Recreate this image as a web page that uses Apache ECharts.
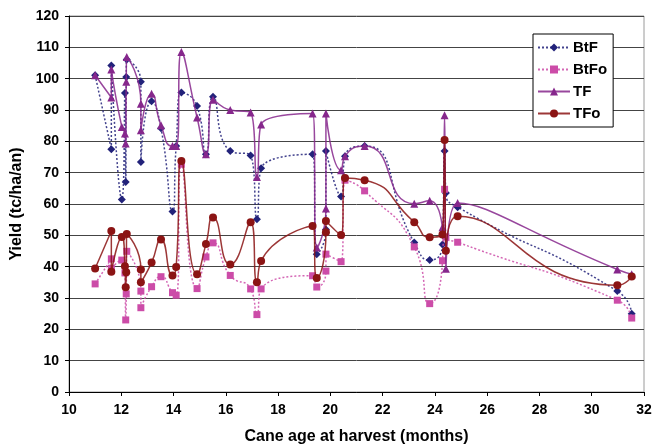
<!DOCTYPE html>
<html><head><meta charset="utf-8">
<script src="https://cdn.jsdelivr.net/npm/echarts@6/dist/echarts.min.js"></script>
<style>html,body{margin:0;padding:0;background:#fff}#c{width:658px;height:445px}</style>
</head><body><div id="c"></div>
<script>
const seriesNames = ['BtF', 'BtFo', 'TF', 'TFo'];
const ageMonths = [11.0, 11.62, 11.62, 12.02, 12.14, 12.17, 12.19, 12.21, 12.75, 12.75, 13.16, 13.52, 13.96, 14.1, 14.3, 14.9, 15.24, 15.51, 16.17, 16.95, 17.19, 17.35, 19.32, 19.48, 19.83, 19.83, 20.41, 20.56, 21.31, 23.21, 23.8, 24.29, 24.37, 24.42, 24.87, 30.98, 31.53];
const btF  = [101.1, 77.5, 104.2, 61.4, 95.4, 67.0, 100.5, 106.1, 99.0, 73.4, 92.8, 84.2, 57.6, 78.5, 95.6, 91.3, 75.9, 94.2, 76.9, 75.5, 55.1, 71.4, 75.9, 44.0, 51.9, 76.9, 62.4, 75.2, 78.5, 47.7, 42.1, 47.1, 76.9, 63.5, 59.0, 32.2, 25.0];
const btFo = [34.5, 42.5, 39.5, 42.1, 38.0, 23.0, 31.3, 44.9, 32.2, 26.9, 33.6, 36.8, 31.7, 30.9, 72.7, 33.0, 43.1, 47.6, 37.2, 32.9, 24.7, 32.9, 37.1, 33.5, 38.6, 44.0, 41.6, 67.6, 64.2, 46.3, 28.2, 41.9, 64.7, 49.5, 47.8, 29.3, 23.6];
const tF   = [101.1, 94.0, 102.9, 84.6, 82.5, 79.3, 99.0, 106.9, 92.0, 83.5, 95.2, 85.1, 78.5, 78.5, 108.5, 87.6, 75.9, 93.3, 90.0, 89.2, 68.6, 85.4, 88.9, 46.1, 58.6, 88.9, 70.8, 75.2, 78.5, 60.1, 61.0, 52.6, 88.3, 39.3, 60.3, 39.1, 37.6];
const tFo  = [39.4, 51.4, 38.4, 49.5, 40.1, 33.4, 38.2, 50.4, 39.1, 35.0, 41.3, 48.7, 37.2, 39.9, 73.7, 37.6, 47.2, 55.7, 40.7, 54.2, 35.0, 41.8, 53.0, 36.4, 51.0, 54.6, 50.1, 68.3, 67.6, 54.2, 49.4, 50.3, 80.4, 45.1, 56.1, 34.1, 36.9];
const xTicks = [10, 12, 14, 16, 18, 20, 22, 24, 26, 28, 30, 32];
const yTicks = [0, 10, 20, 30, 40, 50, 60, 70, 80, 90, 100, 110, 120];

const pairs = ys => ageMonths.map((x, i) => [x, ys[i]]);
const styles = [
  {color: '#22227a', symbol: 'diamond', size: 8, type: [2, 2]},
  {color: '#cc4ca8', symbol: 'rect', size: 7, type: [2, 2]},
  {color: '#86278c', symbol: 'triangle', size: 8, type: 'solid'},
  {color: '#8b1414', symbol: 'circle', size: 8, type: 'solid'}
];
const values = [btF, btFo, tF, tFo];
const chart = echarts.init(document.getElementById('c'), null, {renderer: 'canvas'});
chart.setOption({
  animation: false,
  backgroundColor: '#fff',
  textStyle: {fontFamily: 'Liberation Sans, Arial, sans-serif'},
  grid: {left: 69, right: 14, top: 16, bottom: 53, containLabel: false, outerBoundsMode: 'none',
         show: true, borderColor: '#9a9a9a', borderWidth: 1},
  legend: {
    orient: 'vertical', left: 533, top: 34,
    data: seriesNames,
    backgroundColor: '#fff', borderColor: '#000', borderWidth: 1,
    padding: [6, 6, 6, 4], itemGap: 7, itemWidth: 32, itemHeight: 10,
    textStyle: {fontSize: 15, fontWeight: 'bold', color: '#000', padding: [0, 0, 0, -2]}
  },
  xAxis: {
    type: 'value', min: xTicks[0], max: xTicks[xTicks.length - 1], interval: 2,
    name: 'Cane age at harvest (months)', nameLocation: 'middle', nameGap: 37,
    nameTextStyle: {fontSize: 16, fontWeight: 'bold', color: '#000'},
    axisLine: {onZero: false, lineStyle: {color: '#000', width: 1}},
    axisTick: {show: true, length: 4, lineStyle: {color: '#000'}},
    axisLabel: {fontSize: 14, fontWeight: 'bold', color: '#000', margin: 11},
    splitLine: {show: false}
  },
  yAxis: {
    type: 'value', min: yTicks[0], max: yTicks[yTicks.length - 1], interval: 10,
    name: 'Yield (tc/ha/an)', nameLocation: 'middle', nameGap: 44,
    nameTextStyle: {fontSize: 16, fontWeight: 'bold', color: '#000'},
    axisLine: {show: true, lineStyle: {color: '#000', width: 1}},
    axisTick: {show: true, length: 4, lineStyle: {color: '#000'}},
    axisLabel: {fontSize: 14, fontWeight: 'bold', color: '#000', margin: 10},
    splitLine: {show: true, lineStyle: {color: '#444', width: 1}}
  },
  series: seriesNames.map((n, k) => ({
    name: n, type: 'line', smooth: 0.6,
    data: pairs(values[k]),
    symbol: styles[k].symbol, symbolSize: styles[k].size,
    itemStyle: {color: styles[k].color},
    lineStyle: {color: styles[k].color, width: 1.5, type: styles[k].type, opacity: 0.85},
    z: 2 + k
  }))
});
</script></body></html>
